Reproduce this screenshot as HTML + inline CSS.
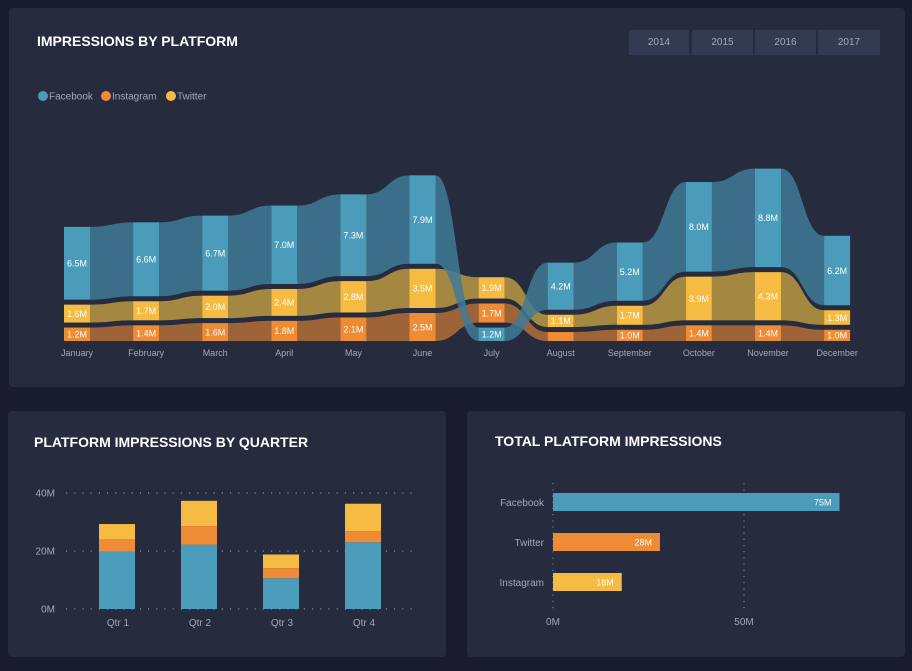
<!DOCTYPE html>
<html><head><meta charset="utf-8"><style>
html,body{margin:0;padding:0;background:#181c2c;width:912px;height:671px;overflow:hidden;font-family:"Liberation Sans",sans-serif}
.panel{position:absolute;background:#262b3e;border-radius:4px}
.title{position:absolute;color:#fff;font-weight:bold;font-size:14px;letter-spacing:0px}
.btn{position:absolute;top:30px;height:25px;background:#343a52;color:#a4a8b8;font-size:10px;line-height:25px;text-align:center}
svg{position:absolute;left:0;top:0}
</style></head><body>
<div class="panel" style="left:9px;top:8px;width:896px;height:379px"></div>
<div class="panel" style="left:8px;top:411px;width:438px;height:246px"></div>
<div class="panel" style="left:467px;top:411px;width:438px;height:246px"></div>
<div class="title" style="left:37px;top:33px">IMPRESSIONS BY PLATFORM</div>
<div class="title" style="left:34px;top:434px">PLATFORM IMPRESSIONS BY QUARTER</div>
<div class="title" style="left:495px;top:433px">TOTAL PLATFORM IMPRESSIONS</div>
<div class="btn" style="left:629px;width:60px">2014</div>
<div class="btn" style="left:692px;width:61px">2015</div>
<div class="btn" style="left:755px;width:61px">2016</div>
<div class="btn" style="left:818px;width:62px">2017</div>
<svg id="s" width="912" height="671"></svg>
<script>
const months=["January","February","March","April","May","June","July","August","September","October","November","December"];
const fb=[6.5,6.6,6.7,7.0,7.3,7.9,1.2,4.2,5.2,8.0,8.8,6.2];
const ig=[1.2,1.4,1.6,1.8,2.1,2.5,1.7,0.8,1.0,1.4,1.4,1.0];
const tw=[1.6,1.7,2.0,2.4,2.8,3.5,1.9,1.1,1.7,3.9,4.3,1.3];
const quarters=["Qtr 1","Qtr 2","Qtr 3","Qtr 4"];
const qFb=[19.8,22.2,10.6,23.0];
const qIg=[4.2,6.4,3.5,3.8];
const qTw=[5.3,8.7,4.7,9.5];
const qTicks=[0,20,40];
const platforms=["Facebook","Twitter","Instagram"];
const totals=[75,28,18];
const tTicks=[0,50];

const NS="http://www.w3.org/2000/svg",S=document.getElementById('s');
function el(t,a,txt){const e=document.createElementNS(NS,t);for(const k in a)e.setAttribute(k,a[k]);if(txt!=null)e.textContent=txt;S.appendChild(e);return e;}
const C={fb:"#4b9cba",ig:"#ee8b35",tw:"#f5bb42"},R={fb:"#407b96",ig:"#b46e37",tw:"#bb9841"};
[["Facebook","fb",38],["Instagram","ig",101],["Twitter","tw",166]].forEach(([n,k,x])=>{
 const c=el('circle',{cx:x+5,cy:96,r:5,fill:C[k]});
 
 
 const t=el('text',{x:x+11,y:99.5,fill:"#a4a8b8","font-size":"10"},n);
 
 
});
const x0=64,step=69.1,bw=26,base=341,k=11.2,gap=5;
const xm=i=>x0+i*step;
const series={fb,ig,tw};
const lay=months.map((m,i)=>{
 const ks=["fb","ig","tw"].sort((a,b)=>series[a][i]-series[b][i]);
 let y=base;const o={};
 ks.forEach(s=>{const h=series[s][i]*k;o[s]={y1:y-h,y2:y};y-=h+gap;});
 return o;});
["ig","tw","fb"].forEach(s=>{
 for(let i=0;i<11;i++){
  const a=lay[i][s],b=lay[i+1][s],xa=xm(i)+bw,xb=xm(i+1),mx=(xa+xb)/2;
  const p=el('path',{d:`M${xa},${a.y1} C${mx},${a.y1} ${mx},${b.y1} ${xb},${b.y1} L${xb},${b.y2} C${mx},${b.y2} ${mx},${a.y2} ${xa},${a.y2} Z`,fill:R[s],opacity:"0.85"});
  
  
 }
});
months.forEach((m,i)=>{
 ["fb","ig","tw"].forEach(s=>{
  const l=lay[i][s],v=series[s][i];
  const r=el('rect',{x:xm(i),y:l.y1,width:bw,height:l.y2-l.y1,fill:C[s]});
  
  
  if(v>=0.9){const t=el('text',{x:xm(i)+bw/2,y:(l.y1+l.y2)/2+3.3,fill:"#fff","font-size":"9","text-anchor":"middle"},v.toFixed(1)+"M");
  
  }
 });
 const t=el('text',{x:xm(i)+bw/2,y:356,fill:"#a4a8b8","font-size":"9","text-anchor":"middle"},m);
 
 
});
const qy=v=>609-v*2.9,qx=i=>99+i*82,qw=36;
qTicks.forEach(v=>{
 const l=el('line',{x1:66,x2:416,y1:qy(v),y2:qy(v),stroke:"#8a8fa3","stroke-dasharray":"1.2 7","stroke-width":"1.2"});
 
 
 const t=el('text',{x:55,y:qy(v)+3.5,fill:"#a4a8b8","font-size":"10","text-anchor":"end"},v+"M");
 
 
});
quarters.forEach((q,i)=>{
 let acc=0;
 [["fb",qFb],["ig",qIg],["tw",qTw]].forEach(([s,arr])=>{
  const v=arr[i];
  const r=el('rect',{x:qx(i),y:qy(acc+v),width:qw,height:v*2.9,fill:C[s]});
  
  
  acc+=v;
 });
 const t=el('text',{x:qx(i)+qw/2+1,y:626,fill:"#a4a8b8","font-size":"10","text-anchor":"middle"},q);
 
 
});
const tx=v=>553+v*3.82,tyc=[502,542,582],tcol=[C.fb,C.ig,C.tw];
tTicks.forEach(v=>{
 const l=el('line',{x1:tx(v),x2:tx(v),y1:483,y2:610,stroke:"#8a8fa3","stroke-dasharray":"1.2 5"});
 
 
 const t=el('text',{x:tx(v),y:625,fill:"#a4a8b8","font-size":"10","text-anchor":"middle"},v+"M");
 
 
});
platforms.forEach((p,i)=>{
 const r=el('rect',{x:tx(0),y:tyc[i]-9,width:tx(totals[i])-tx(0),height:18,fill:tcol[i]});
 
 
 const v=el('text',{x:tx(totals[i])-8,y:tyc[i]+3.5,fill:"#fff","font-size":"9","text-anchor":"end"},totals[i]+"M");
 
 
 const t=el('text',{x:544,y:tyc[i]+4,fill:"#a4a8b8","font-size":"10","text-anchor":"end"},p);
 
 
});
</script>
</body></html>
